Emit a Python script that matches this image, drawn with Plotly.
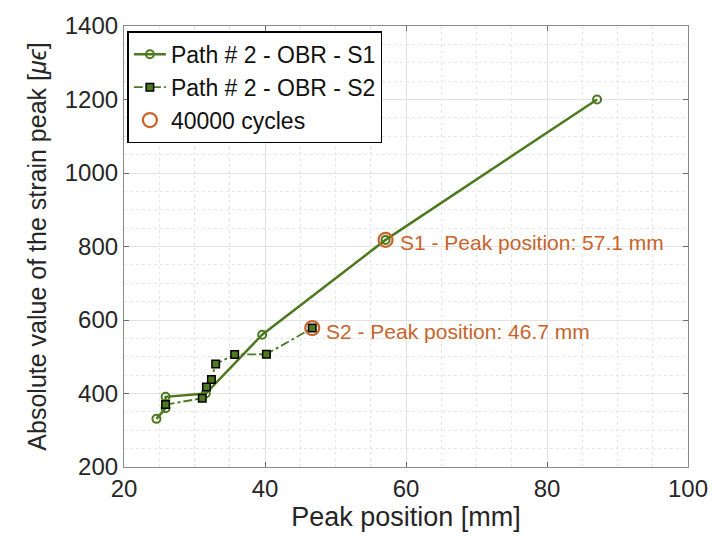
import plotly.graph_objects as go

# Data
s1_x = [24.6, 25.9, 25.9, 31.6, 39.6, 57.1, 87.1]
s1_y = [331, 360, 391, 400, 560, 818, 1200]
s2_x = [25.9, 31.1, 31.7, 32.4, 33.0, 35.7, 40.2, 46.7]
s2_y = [370, 387, 418, 438, 480, 506, 507, 578]
cyc_x = [57.1, 46.7]
cyc_y = [818, 578]
labels = ["S1 - Peak position: 57.1 mm", "S2 - Peak position: 46.7 mm"]

green = "#4D7A1F"
orange = "#C8642A"
FONT = "Liberation Sans, Arial"

fig = go.Figure()
fig.add_trace(go.Scatter(
    x=s1_x, y=s1_y, mode="lines+markers", name="Path # 2 - OBR - S1",
    line=dict(color=green, width=2.5),
    marker=dict(symbol="circle-open", size=8, color=green, line=dict(width=2))))
fig.add_trace(go.Scatter(
    x=s2_x, y=s2_y, mode="lines+markers", name="Path # 2 - OBR - S2",
    line=dict(color=green, width=1.8, dash="dashdot"),
    marker=dict(symbol="square", size=7.5, color=green, line=dict(color="black", width=1.5))))
fig.add_trace(go.Scatter(
    x=cyc_x, y=cyc_y, mode="markers", name="40000 cycles",
    marker=dict(symbol="circle-open", size=14, color=orange, line=dict(width=2.2))))

for xv, yv, t in zip(cyc_x, cyc_y, labels):
    fig.add_annotation(x=xv, y=yv, text=t, showarrow=False, xanchor="left",
                       yanchor="middle", xshift=12, yshift=-3,
                       font=dict(family=FONT, size=21, color=orange))

axis_common = dict(
    showline=True, linecolor="#8a8a8a", linewidth=1.2, mirror="ticks",
    ticks="inside", ticklen=5, tickcolor="#6a6a6a",
    showgrid=True, gridcolor="#e2e2e2", gridwidth=1, zeroline=False,
    tickfont=dict(family=FONT, size=24, color="#262626"),
)

fig.update_xaxes(range=[20, 100], dtick=20, tick0=20,
                 title=dict(text="Peak position [mm]", font=dict(family=FONT, size=27, color="#262626"), standoff=6),
                 minor=dict(dtick=5, showgrid=True, gridcolor="#e6e6e6", griddash="dot", ticks=""),
                 **axis_common)
fig.update_yaxes(range=[200, 1400], dtick=200, tick0=200,
                 title=dict(text="Absolute value of the strain peak [<i>μϵ</i>]", font=dict(family=FONT, size=25, color="#262626"), standoff=10),
                 minor=dict(dtick=50, showgrid=True, gridcolor="#e6e6e6", griddash="dot", ticks=""),
                 **axis_common)

fig.update_layout(
    width=720, height=540,
    margin=dict(l=124, r=25, t=17, b=73),
    plot_bgcolor="white", paper_bgcolor="white",
    legend=dict(x=0.006, y=0.988, xanchor="left", yanchor="top",
                bgcolor="white", bordercolor="black", borderwidth=1.5,
                font=dict(family=FONT, size=23, color="#111"),
                tracegroupgap=0, itemwidth=32),
)

fig.write_html("out.html")
